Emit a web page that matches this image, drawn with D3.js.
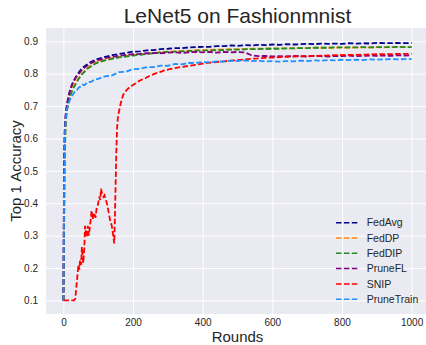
<!DOCTYPE html>
<html>
<head>
<meta charset="utf-8">
<script src="https://cdn.jsdelivr.net/npm/d3@7"></script>
<style>
	body { margin: 0; background: #fff; }
	svg { display: block; font-family: "Liberation Sans", Arial, sans-serif; }
</style>
</head>
<body>
<svg id="chart" width="426" height="345"></svg>
<script>
var rounds = [0,2,4,6,8,10,13,16,20,25,30,35,40,45,50,55,60,70,80,90,100,
	120,140,160,180,200,220,240,260,280,300,320,340,360,380,400,420,440,460,480,500,
	520,540,560,580,600,620,640,660,680,700,720,740,760,780,800,820,840,860,880,900,
	920,940,960,980,1000];

var fedAvg = [0.100,0.50,0.62,0.66,0.685,0.700,0.718,0.733,0.750,0.766,0.778,0.788,0.797,0.805,0.812,0.818,0.822,0.830,0.837,0.842,0.846,
	0.852,0.857,0.861,0.864,0.868,0.869,0.872,0.873,0.876,0.877,0.879,0.879,0.881,0.882,0.883,0.883,0.885,0.885,0.887,0.886,
	0.888,0.887,0.889,0.888,0.890,0.889,0.891,0.890,0.891,0.892,0.891,0.893,0.892,0.893,0.892,0.894,0.893,0.894,0.893,0.895,
	0.894,0.894,0.895,0.894,0.895];

var fedDP = [0.100,0.35,0.56,0.63,0.665,0.690,0.705,0.720,0.737,0.752,0.764,0.772,0.781,0.789,0.797,0.803,0.808,0.818,0.826,0.832,0.837,
	0.843,0.848,0.852,0.855,0.858,0.860,0.862,0.864,0.867,0.868,0.869,0.870,0.871,0.872,0.873,0.873,0.874,0.875,0.875,0.876,
	0.876,0.877,0.877,0.877,0.878,0.878,0.878,0.879,0.879,0.879,0.880,0.880,0.880,0.880,0.881,0.880,0.881,0.881,0.881,0.882,
	0.881,0.882,0.882,0.882,0.882];

var fedDIP = [0.100,0.33,0.55,0.625,0.662,0.685,0.700,0.716,0.733,0.747,0.758,0.767,0.777,0.786,0.793,0.800,0.805,0.816,0.823,0.830,0.835,
	0.841,0.846,0.850,0.853,0.856,0.858,0.861,0.863,0.866,0.867,0.868,0.869,0.870,0.871,0.871,0.872,0.873,0.873,0.874,0.874,
	0.875,0.876,0.876,0.877,0.877,0.877,0.878,0.878,0.879,0.879,0.880,0.880,0.880,0.881,0.881,0.881,0.881,0.882,0.881,0.882,
	0.882,0.882,0.883,0.882,0.882];

var pruneFL = [0.100,0.55,0.64,0.67,0.69,0.705,0.722,0.737,0.752,0.768,0.778,0.787,0.795,0.801,0.808,0.813,0.818,0.826,0.833,0.838,0.842,
	0.848,0.852,0.855,0.858,0.860,0.861,0.863,0.864,0.863,0.865,0.866,0.864,0.866,0.867,0.866,0.867,0.865,0.867,0.866,0.867,
	0.866,0.857,0.854,0.855,0.853,0.854,0.853,0.855,0.854,0.853,0.855,0.854,0.853,0.855,0.854,0.856,0.854,0.855,0.856,0.855,
	0.856,0.855,0.857,0.856,0.857];

var pruneTrain = [0.100,0.45,0.60,0.65,0.675,0.690,0.702,0.712,0.722,0.733,0.740,0.748,0.751,0.758,0.760,0.766,0.764,0.774,0.775,0.782,0.784,
	0.792,0.795,0.805,0.806,0.814,0.815,0.820,0.820,0.825,0.824,0.830,0.829,0.833,0.833,0.836,0.835,0.838,0.837,0.840,0.839,
	0.841,0.839,0.840,0.838,0.839,0.837,0.839,0.838,0.840,0.839,0.841,0.840,0.842,0.841,0.843,0.842,0.843,0.842,0.844,0.843,
	0.844,0.845,0.844,0.845,0.845];

// SNIP has its own rounds, it collapses and recovers early on
var snipRounds = [0,10,20,30,34,38,41,43,46,48,51,53,55,57,60,62,65,67,70,73,75,78,81,84,86,89,92,96,
	99,103,106,108,111,115,118,122,126,129,134,139,143,146,148,150,152,154,157,161,165,168,172,177,
	184,191,200,210,220,235,249,263,277,290,305,320,340,360,383,400,420,440,460,478,500,520,540,560,
	580,607,630,660,690,720,751,780,810,840,870,900,930,960,1000];

var snip = [0.100,0.100,0.100,0.100,0.105,0.150,0.185,0.210,0.195,0.225,0.210,0.265,0.235,0.215,0.260,0.330,
	0.310,0.295,0.330,0.300,0.318,0.345,0.378,0.350,0.360,0.370,0.355,0.390,0.395,0.420,0.410,0.445,0.430,0.420,
	0.425,0.410,0.395,0.378,0.348,0.330,0.300,0.276,0.360,0.460,0.560,0.630,0.670,0.690,0.710,0.722,0.735,0.744,
	0.752,0.759,0.765,0.772,0.779,0.786,0.794,0.800,0.805,0.810,0.814,0.817,0.821,0.824,0.828,0.831,0.834,0.836,
	0.838,0.840,0.842,0.844,0.846,0.847,0.849,0.850,0.852,0.853,0.854,0.855,0.856,0.857,0.858,0.858,0.859,0.860,
	0.860,0.861,0.861];

var seriesNames = ["FedAvg", "FedDP", "FedDIP", "PruneFL", "SNIP", "PruneTrain"];
var seriesColors = ["#00008b", "#ff8c00", "#228b22", "#800080", "#ff0000", "#1e90ff"];
var xTicks = [0, 200, 400, 600, 800, 1000];
var yTicks = [0.1, 0.2, 0.3, 0.4, 0.5, 0.6, 0.7, 0.8, 0.9];

var series = [
	{ name: seriesNames[0], x: rounds, y: fedAvg },
	{ name: seriesNames[1], x: rounds, y: fedDP },
	{ name: seriesNames[2], x: rounds, y: fedDIP },
	{ name: seriesNames[3], x: rounds, y: pruneFL },
	{ name: seriesNames[4], x: snipRounds, y: snip },
	{ name: seriesNames[5], x: rounds, y: pruneTrain }
];

var svg = d3.select("#chart"),
	plotLeft = 46, plotTop = 28, plotRight = 429, plotBottom = 314,
	ink = "#262626";

var x = d3.scaleLinear().domain([-50, 1050]).range([plotLeft, plotRight]),
	y = d3.scaleLinear().domain([0.058, 0.941]).range([plotBottom, plotTop]),
	color = d3.scaleOrdinal().domain(seriesNames).range(seriesColors);

// seaborn darkgrid background
svg.append("rect")
	.attr("x", plotLeft).attr("y", plotTop)
	.attr("width", plotRight - plotLeft).attr("height", plotBottom - plotTop)
	.attr("fill", "#eaeaf2");

var xAxis = svg.append("g")
	.attr("transform", "translate(0," + plotBottom + ")")
	.call(d3.axisBottom(x).tickValues(xTicks).tickFormat(d3.format("d"))
		.tickSize(-(plotBottom - plotTop)).tickPadding(5));

var yAxis = svg.append("g")
	.attr("transform", "translate(" + plotLeft + ",0)")
	.call(d3.axisLeft(y).tickValues(yTicks).tickFormat(d3.format(".1f"))
		.tickSize(-(plotRight - plotLeft)).tickPadding(8));

[xAxis, yAxis].forEach(function(g) {
	g.select(".domain").remove();
	g.selectAll(".tick line").attr("stroke", "#fff").attr("stroke-width", 1);
	g.selectAll(".tick text").attr("fill", ink).attr("font-size", "10px")
		.attr("font-family", "Liberation Sans, Arial, sans-serif");
});

var line = d3.line()
	.x(function(d) { return x(d[0]); })
	.y(function(d) { return y(d[1]); });

// noisy curves in the original read a bit heavier than 1.5px
svg.append("g")
	.selectAll("path")
	.data(series)
	.enter()
	.append("path")
	.attr("d", function(s) { return line(d3.zip(s.x, s.y)); })
	.attr("fill", "none")
	.attr("stroke", function(s) { return color(s.name); })
	.attr("stroke-width", 1.8)
	.attr("stroke-dasharray", "5.5,2.4");

// title and axis labels
svg.append("text")
	.attr("x", (plotLeft + plotRight) / 2).attr("y", 23)
	.attr("text-anchor", "middle")
	.attr("font-size", "21px").attr("fill", ink)
	.text("LeNet5 on Fashionmnist");

svg.append("text")
	.attr("x", (plotLeft + plotRight) / 2).attr("y", 342)
	.attr("text-anchor", "middle")
	.attr("font-size", "15px").attr("fill", ink)
	.text("Rounds");

svg.append("text")
	.attr("transform", "translate(21," + ((plotTop + plotBottom) / 2) + ") rotate(-90)")
	.attr("text-anchor", "middle")
	.attr("font-size", "15px").attr("fill", ink)
	.text("Top 1 Accuracy");

// legend, no frame, lower right
var legend = svg.append("g")
	.selectAll("g")
	.data(seriesNames)
	.enter()
	.append("g")
	.attr("transform", function(d, i) { return "translate(336," + (222.7 + i * 15.3) + ")"; });

legend.append("line")
	.attr("x1", 0).attr("x2", 22)
	.attr("stroke", function(d) { return color(d); })
	.attr("stroke-width", 1.5)
	.attr("stroke-dasharray", "5.5,2.4");

legend.append("text")
	.attr("x", 30.7).attr("dy", "0.35em")
	.attr("font-size", "10.5px").attr("fill", ink)
	.text(function(d) { return d; });
</script>
</body>
</html>
